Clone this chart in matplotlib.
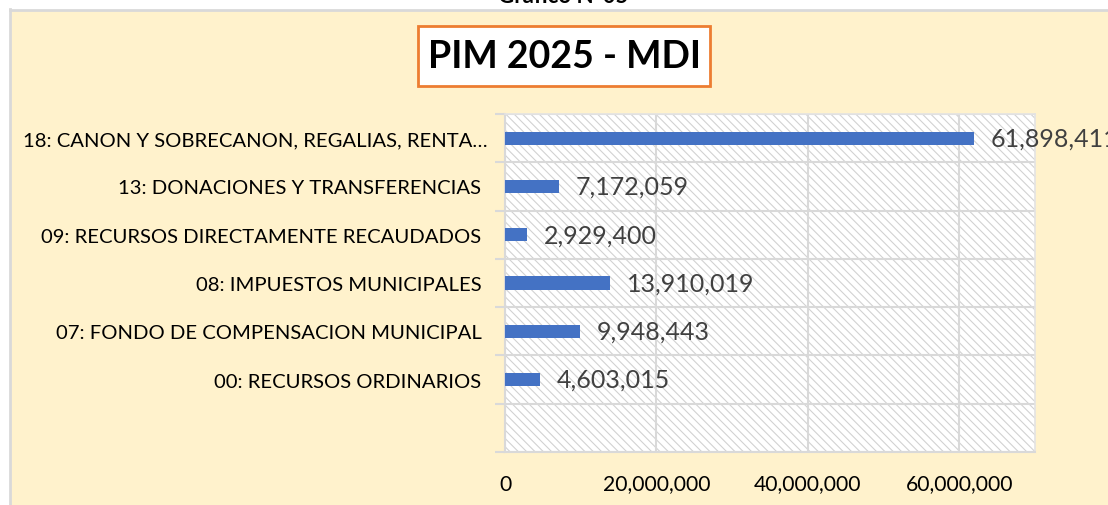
import matplotlib
matplotlib.use("Agg")
import matplotlib.pyplot as plt
import matplotlib.transforms as mtransforms
from matplotlib.patches import Rectangle
from matplotlib.ticker import FuncFormatter, FixedLocator
from matplotlib.lines import Line2D

categories = [
    "00: RECURSOS ORDINARIOS",
    "07: FONDO DE COMPENSACION MUNICIPAL",
    "08: IMPUESTOS MUNICIPALES",
    "09: RECURSOS DIRECTAMENTE RECAUDADOS",
    "13: DONACIONES Y TRANSFERENCIAS",
    "18: CANON Y SOBRECANON, REGALIAS, RENTA…",
]
values = [4603015, 9948443, 13910019, 2929400, 7172059, 61898411]
xticks = [0, 20000000, 40000000, 60000000]
title = "PIM 2025 - MDI"
header = "Gráfico N°05"

FONT = ["Lato", "DejaVu Sans"]
plt.rcParams["font.family"] = FONT
plt.rcParams["hatch.linewidth"] = 0.8
plt.rcParams["hatch.color"] = "#D4D4D4"

W, H = 1108, 506
fig = plt.figure(figsize=(W / 100, H / 100), dpi=100)
fig.patch.set_facecolor("white")

def fx(px):
    return px / W

def fy(py):
    return 1 - py / H

# beige chart area
fig.patches.append(Rectangle((fx(11), 0), 1 - fx(11), fy(11), transform=fig.transFigure,
                             facecolor="#FFF2CC", edgecolor="none", zorder=-5))
fig.lines.append(Line2D([fx(10), fx(10)], [0, fy(10)], transform=fig.transFigure,
                        color="#D9D9D9", lw=2, zorder=-4))
fig.lines.append(Line2D([fx(10), 1], [fy(10.5), fy(10.5)], transform=fig.transFigure,
                        color="#D9D9D9", lw=2, zorder=-4))

# header cut off at top
fig.text(fx(563), fy(3), header, ha="center", va="baseline", fontsize=16,
         fontweight="bold", color="black")

# title box
fig.patches.append(Rectangle((fx(418), fy(87)), fx(710) - fx(418), fy(27) - fy(87),
                             transform=fig.transFigure, facecolor="white",
                             edgecolor="#ED7D31", lw=2, zorder=2))
fig.text(fx(564), fy(57.5), title, ha="center", va="center", fontsize=27,
         fontweight="bold", color="black", zorder=3)

ax = fig.add_axes([fx(505), fy(453), fx(1035) - fx(505), fy(115) - fy(453)])
ax.set_facecolor("white")
ax.add_patch(Rectangle((0, 0), 1, 1, transform=ax.transAxes, facecolor="white",
                       edgecolor="#D2D2D2", linewidth=0, hatch="\\\\\\\\", zorder=0))

ypos = list(range(len(categories)))
ax.barh(ypos, values, height=0.27, color="#4472C4", zorder=3)
for y, v in zip(ypos, values):
    ax.annotate(f"{v:,}", xy=(v, y), xytext=(12, 0), textcoords="offset points",
                ha="left", va="center", fontsize=18, color="#404040",
                annotation_clip=False, zorder=4)

ax.set_xlim(0, 70000000)
ax.set_ylim(-1.5, len(categories) - 0.5)
ax.set_xticks(xticks)
ax.xaxis.set_major_formatter(FuncFormatter(lambda v, p: f"{int(v):,}"))
ax.set_yticks(ypos)
ax.set_yticklabels(categories)
ax.yaxis.set_minor_locator(FixedLocator([i - 0.5 for i in range(-1, len(categories) + 1)]))

ax.tick_params(axis="x", length=0, pad=15.5, labelsize=15.2, colors="black")
ax.tick_params(axis="y", which="major", length=0, pad=17, labelsize=14.6, colors="black")
ax.tick_params(axis="y", which="minor", length=7, width=1.5, color="#D9D9D9")
ax.grid(axis="x", which="major", color="#D9D9D9", lw=1.5, zorder=1)
ax.grid(axis="y", which="minor", color="#D9D9D9", lw=1.5, zorder=1)
ax.set_axisbelow(True)
for s in ax.spines.values():
    s.set_color("#D9D9D9")
    s.set_linewidth(1.2)
ax.spines["left"].set_linewidth(1.5)
ax.spines["bottom"].set_linewidth(1.5)
ax.spines["top"].set_color("#E3E3E3")
ax.spines["right"].set_color("#E3E3E3")

# longest (truncated) label sits slightly closer to the axis
lbl = ax.get_yticklabels()[-1]
lbl.set_transform(lbl.get_transform() + mtransforms.ScaledTranslation(6 / 100, 0, fig.dpi_scale_trans))

fig.savefig("out.png", dpi=100, facecolor=fig.get_facecolor())
